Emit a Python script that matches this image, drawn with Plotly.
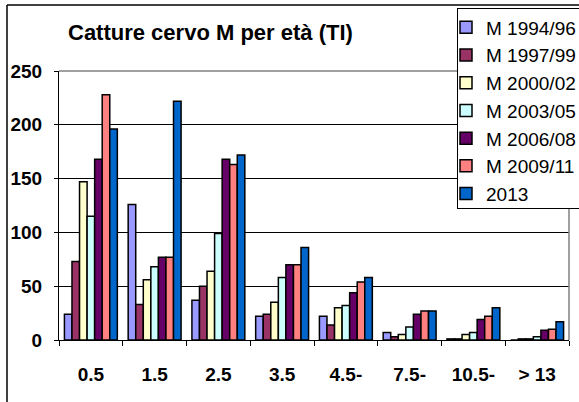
import plotly.graph_objects as go

# age classes (x axis)
classes = ["0.5", "1.5", "2.5", "3.5", "4.5-", "7.5-", "10.5-", "> 13"]

# captures per period
m_1994_96 = [24, 126, 37, 22, 22, 7, 1, 0]
m_1997_99 = [73, 33, 50, 24, 14, 3, 1, 1]
m_2000_02 = [147, 56, 64, 35, 30, 5, 5, 1]
m_2003_05 = [115, 68, 99, 58, 32, 12, 7, 3]
m_2006_08 = [168, 77, 168, 70, 44, 24, 19, 9]
m_2009_11 = [228, 77, 163, 70, 54, 27, 22, 10]
y_2013 = [196, 222, 172, 86, 58, 27, 30, 17]

series = [
    ("M 1994/96", m_1994_96, "#9999FF"),
    ("M 1997/99", m_1997_99, "#993366"),
    ("M 2000/02", m_2000_02, "#FFFFCC"),
    ("M 2003/05", m_2003_05, "#CCFFFF"),
    ("M 2006/08", m_2006_08, "#660066"),
    ("M 2009/11", m_2009_11, "#FF8080"),
    ("2013", y_2013, "#0066CC"),
]

FONT = "Arial, Liberation Sans, sans-serif"

fig = go.Figure()
for i, (name, vals, col) in enumerate(series):
    fig.add_trace(go.Bar(
        x=classes, y=vals, name=name, legendgroup=f"g{i}",
        marker=dict(color=col, line=dict(color="black", width=1.5)),
        hoverinfo="skip",
    ))

# plot area: x 59..569 px, y 71..340 px
L, R, T, B = 59, 10, 71, 62
W, H = 579, 402
pw, ph = W - L - R, H - T - B

def px(x):
    return (x - L) / pw

def py(y):
    return (H - B - y) / ph

fig.update_layout(
    width=W, height=H,
    margin=dict(l=L, r=R, t=T, b=B, autoexpand=False),
    paper_bgcolor="white", plot_bgcolor="white",
    barmode="group", bargap=0.17, bargroupgap=0,
    font=dict(family=FONT, color="black"),
    title=dict(text="Catture cervo M per età (TI)",
               x=68 / W, xanchor="left", xref="container",
               y=1 - 32 / H, yanchor="middle", yref="container",
               font=dict(size=22, weight="bold", family=FONT)),
    legend=dict(x=px(457), y=py(7.5), xanchor="left", yanchor="top",
                bgcolor="white", bordercolor="black", borderwidth=1,
                font=dict(size=19, family=FONT), indentation=-12,
                itemwidth=30, tracegroupgap=0),
)

fig.update_xaxes(
    type="category", showgrid=False, showline=True, linecolor="black",
    linewidth=1, ticks="outside", ticklen=5, tickcolor="black",
    tickson="boundaries", ticklabelstandoff=17,
    tickfont=dict(size=19, weight="bold", family=FONT),
)
fig.update_yaxes(
    range=[0, 250], tickvals=[0, 50, 100, 150, 200, 250],
    showgrid=True, gridcolor="black", gridwidth=1,
    showline=True, linecolor="black", linewidth=1,
    ticks="outside", ticklen=4, tickcolor="black", ticklabelstandoff=8,
    tickfont=dict(size=19, weight="bold", family=FONT), zeroline=False,
)

# plot-area border (grey) on top and right
fig.add_shape(type="line", xref="paper", yref="paper", x0=0, x1=1, y0=1, y1=1,
              line=dict(color="#808080", width=1.5), layer="above")
fig.add_shape(type="line", xref="paper", yref="paper", x0=1, x1=1, y0=0, y1=1,
              line=dict(color="#808080", width=1.5), layer="above")
# outer chart border
fig.add_shape(type="line", xref="paper", yref="paper",
              x0=px(7), x1=px(7), y0=py(5), y1=py(410),
              line=dict(color="black", width=1.5), layer="below")
fig.add_shape(type="line", xref="paper", yref="paper",
              x0=px(7), x1=px(590), y0=py(5), y1=py(5),
              line=dict(color="black", width=1.5), layer="below")

fig.write_html("out.html", config={"displayModeBar": False},
               post_script="document.body.style.margin='0';")
